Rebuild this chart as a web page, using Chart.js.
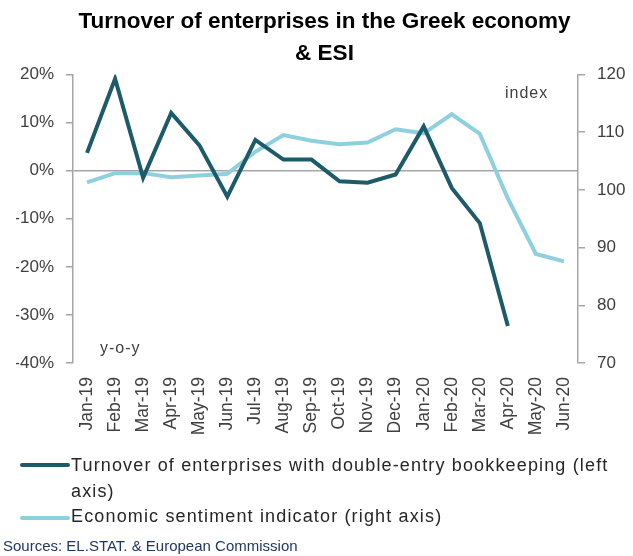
<!DOCTYPE html>
<html>
<head>
<meta charset="utf-8">
<script src="https://cdn.jsdelivr.net/npm/chart.js@4"></script>
<style>
  html, body { margin: 0; padding: 0; background: #fff; }
  #wrap { position: relative; width: 633px; height: 556px; }
  #c { position: absolute; left: 0; top: 0; }
  .leg { position: absolute; font-family: "Liberation Sans", Arial, sans-serif; color: #262626; font-size: 18px; letter-spacing: 1.15px; white-space: nowrap; }
  .sw { position: absolute; height: 4px; border-radius: 2px; }
  #src { position: absolute; left: 3px; top: 537px; font-family: "Liberation Sans", Arial, sans-serif; font-size: 15px; color: #1f3864; white-space: nowrap; }
</style>
</head>
<body>
<div id="wrap">
  <canvas id="c" width="633" height="556"></canvas>
  <div class="sw" style="left:20px; top:463px; width:50px; background:#1d5b6a;"></div>
  <div class="leg" style="left:71px; top:452px; line-height:26px;">Turnover of enterprises with double-entry bookkeeping (left<br>axis)</div>
  <div class="sw" style="left:20px; top:516px; width:50px; background:#8fd0df;"></div>
  <div class="leg" style="left:71px; top:505px; line-height:22px;">Economic sentiment indicator (right axis)</div>
  <div id="src">Sources: EL.STAT. &amp; European Commission</div>
</div>
<script>
const categories = ["Jan-19","Feb-19","Mar-19","Apr-19","May-19","Jun-19","Jul-19","Aug-19","Sep-19","Oct-19","Nov-19","Dec-19","Jan-20","Feb-20","Mar-20","Apr-20","May-20","Jun-20"];
const turnoverYoY = [3.7, 19.1, -1.5, 12.0, 5.3, -5.4, 6.4, 2.3, 2.3, -2.2, -2.5, -0.8, 9.2, -3.6, -10.9, -32.3, null, null];
const esiIndex = [101.3, 102.9, 102.9, 102.2, 102.5, 102.8, 106.6, 109.5, 108.5, 107.9, 108.2, 110.5, 109.8, 113.1, 109.7, 98.5, 88.9, 87.6];
const titleLines = ["Turnover of enterprises in the Greek economy", "& ESI"];
const leftTicks = { min: -40, max: 20, step: 10 };
const rightTicks = { min: 70, max: 120, step: 10 };

const axisGray = "#a6a6a6";
const labelColor = "#404040";
const yFont = { family: "Liberation Sans, Arial, sans-serif", size: 17 };
const xFont = { family: "Liberation Sans, Arial, sans-serif", size: 17.5 };

const annotations = {
  id: "annotations",
  afterDatasetsDraw(chart) {
    const ctx = chart.ctx;
    ctx.save();
    ctx.fillStyle = labelColor;
    ctx.font = "16px Liberation Sans, Arial, sans-serif";
    if ("letterSpacing" in ctx) ctx.letterSpacing = "1px";
    ctx.textBaseline = "middle";
    ctx.textAlign = "left";
    ctx.fillText("y-o-y", 100, 349);
    ctx.fillText("index", 505, 94);
    ctx.restore();
  }
};

new Chart(document.getElementById("c"), {
  type: "line",
  data: {
    labels: categories,
    datasets: [
      { label: "Economic sentiment indicator (right axis)", data: esiIndex, yAxisID: "y1",
        borderColor: "#8fd0df", borderWidth: 4, pointRadius: 0, tension: 0, order: 2 },
      { label: "Turnover of enterprises with double-entry bookkeeping (left axis)", data: turnoverYoY, yAxisID: "y",
        borderColor: "#1d5b6a", borderWidth: 4, pointRadius: 0, tension: 0, order: 1, spanGaps: false }
    ]
  },
  options: {
    responsive: false,
    animation: false,
    devicePixelRatio: 1,
    layout: { padding: { left: 16, right: 0, top: 0, bottom: 105 } },
    plugins: {
      legend: { display: false },
      tooltip: { enabled: false },
      title: {
        display: true,
        text: titleLines,
        color: "#000",
        font: { family: "Liberation Sans, Arial, sans-serif", size: 22.5, weight: "bold", lineHeight: 1.41 },
        padding: { top: 6, bottom: 5 }
      }
    },
    scales: {
      x: {
        offset: true,
        grid: { display: false },
        border: { display: false },
        ticks: { color: labelColor, font: xFont, maxRotation: 90, minRotation: 90, autoSkip: false, padding: 6 },
        afterFit(s) { s.height = 88; }
      },
      y: {
        position: "left",
        min: leftTicks.min, max: leftTicks.max,
        ticks: { stepSize: leftTicks.step, color: labelColor, font: yFont, padding: 12,
                 callback: v => v + "%" },
        grid: { color: c => (c.tick && c.tick.value === 0) ? axisGray : "rgba(0,0,0,0)",
                tickColor: axisGray, tickLength: 7, lineWidth: 1.5, drawTicks: true },
        border: { display: true, color: axisGray, width: 1.5 },
        afterFit(s) { s.width = 57; }
      },
      y1: {
        position: "right",
        min: rightTicks.min, max: rightTicks.max,
        ticks: { stepSize: rightTicks.step, color: labelColor, font: yFont, padding: 12 },
        grid: { drawOnChartArea: false, tickColor: axisGray, tickLength: 7, lineWidth: 1.5 },
        border: { display: true, color: axisGray, width: 1.5 },
        afterFit(s) { s.width = 55; }
      }
    }
  },
  plugins: [annotations]
});
</script>
</body>
</html>
